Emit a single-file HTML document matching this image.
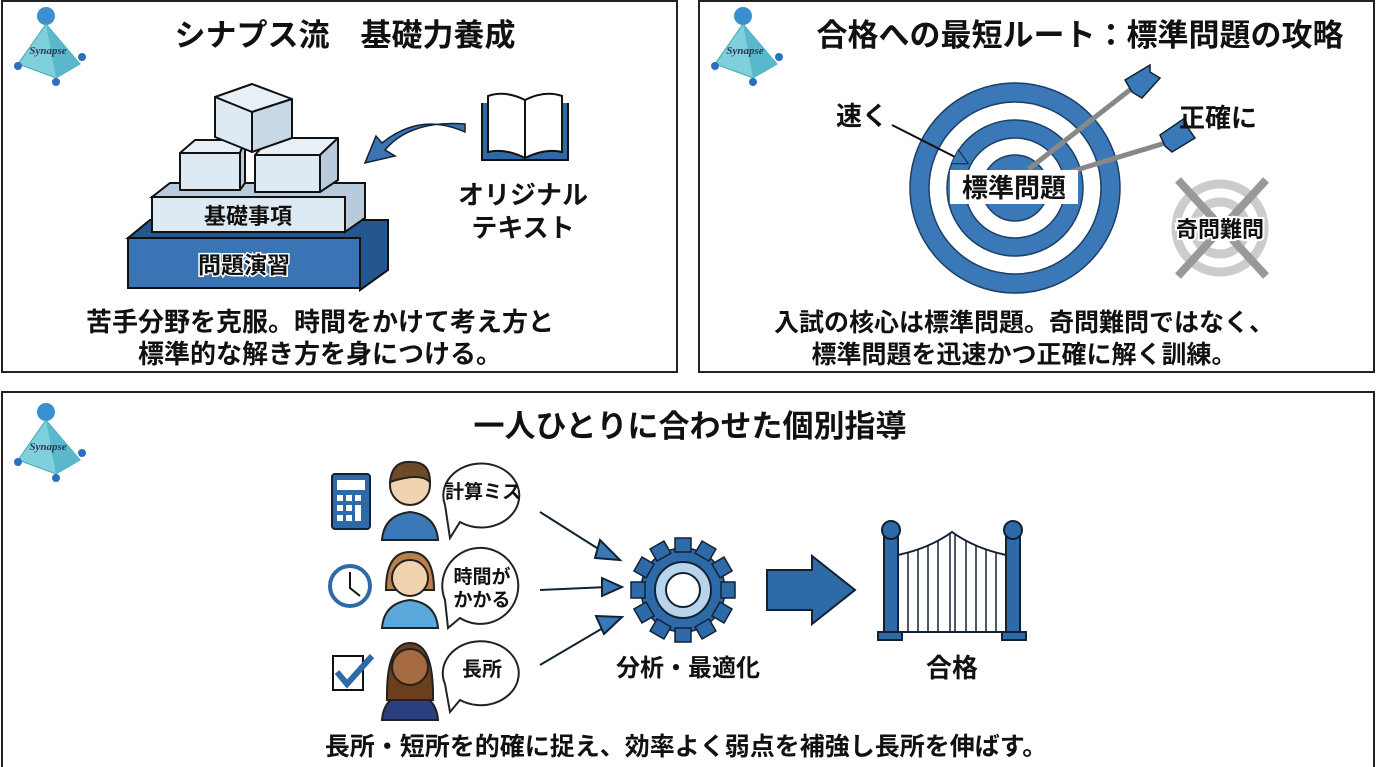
<!DOCTYPE html>
<html><head><meta charset="utf-8"><style>
body{margin:0;background:#fff}
svg{display:block}
text{font-family:"Liberation Sans","Noto Sans CJK JP",sans-serif;font-weight:bold;fill:#111}
</style></head><body>
<svg width="1376" height="767" viewBox="0 0 1376 767" xmlns="http://www.w3.org/2000/svg">
<defs>
<g id="logo">
<circle cx="38" cy="14" r="9" fill="#3a8fd0"/>
<polygon points="38,22 72,62 48,76 10,62" fill="#7fd0dc" stroke="#4aa" stroke-width="1"/>
<polygon points="38,22 48,76 72,62" fill="#5ab8cc"/>
<circle cx="10" cy="64" r="4" fill="#2a6fc0"/><circle cx="74" cy="55" r="4" fill="#2a6fc0"/><circle cx="48" cy="80" r="4" fill="#2a6fc0"/>
<text x="40" y="52" font-size="11" font-style="italic" font-weight="normal" text-anchor="middle" style="fill:#335;font-family:'Liberation Serif',serif">Synapse</text>
</g>
<marker id="ah" markerWidth="8" markerHeight="8" refX="6" refY="4" orient="auto"><path d="M0,0 L8,4 L0,8 z" fill="#3a78b8" stroke="#123" stroke-width=".5"/></marker>
</defs>
<rect x="2" y="1" width="675" height="371" fill="none" stroke="#222" stroke-width="2"/>
<rect x="699" y="1" width="675" height="371" fill="none" stroke="#222" stroke-width="2"/>
<path d="M2,767 V392 H1374 V767" fill="none" stroke="#222" stroke-width="2"/>
<use href="#logo" x="8" y="2"/><use href="#logo" x="705" y="2"/><use href="#logo" x="8" y="398"/>

<text x="345" y="46" font-size="31" text-anchor="middle">シナプス流　基礎力養成</text>
<!-- pyramid -->
<polygon points="128,238 150,220 388,220 388,270 360,290 360,238" fill="#24578f" stroke="#111" stroke-width="2"/>
<rect x="128" y="238" width="232" height="50" fill="#3a74b4" stroke="#111" stroke-width="2"/>
<text x="244" y="273" font-size="23" text-anchor="middle" style="fill:#111;paint-order:stroke;stroke:#fff;stroke-width:3">問題演習</text>
<polygon points="152,197 170,183 365,183 365,218 345,232 345,197" fill="#b8cbdd" stroke="#111" stroke-width="2"/>
<rect x="152" y="197" width="193" height="35" fill="#dde9f3" stroke="#111" stroke-width="2"/>
<text x="248" y="224" font-size="22" text-anchor="middle">基礎事項</text>
<g stroke="#111" stroke-width="2" stroke-linejoin="round">
<rect x="180" y="153" width="60" height="37" fill="#dde9f3"/>
<polygon points="180,153 195,140 245,140 240,153" fill="#e8f0f7"/>
<polygon points="240,153 245,140 245,183 240,190" fill="#b8cbdd"/>
<rect x="255" y="155" width="65" height="37" fill="#dde9f3"/>
<polygon points="255,155 270,138 338,138 320,155" fill="#e8f0f7"/>
<polygon points="320,155 338,138 338,180 320,192" fill="#b8cbdd"/>
<polygon points="252,84 292,99 252,112 215,97" fill="#e8f0f7"/>
<polygon points="215,97 252,112 252,152 215,137" fill="#dde9f3"/>
<polygon points="252,112 292,99 292,138 252,152" fill="#c8d8e6"/>
</g>
<!-- book & arrow -->
<path d="M482,103 V160 H568 V103" fill="#2f6aa8" stroke="#111" stroke-width="2"/>
<path d="M488,96 Q505,90 525,100 V158 Q505,148 488,152 Z M562,96 Q545,90 525,100 V158 Q545,148 562,152 Z" fill="#fff" stroke="#111" stroke-width="2"/>
<path d="M465,124 Q410,120 385,150 L395,156 L365,163 L376,136 L382,143 Q420,112 465,132 Z" fill="#3a74b4" stroke="#123" stroke-width="1.5"/>
<text x="523" y="204" font-size="26" text-anchor="middle">オリジナル</text>
<text x="523" y="237" font-size="26" text-anchor="middle">テキスト</text>
<text x="320" y="331" font-size="26" text-anchor="middle">苦手分野を克服。時間をかけて考え方と</text>
<text x="320" y="363" font-size="26" text-anchor="middle">標準的な解き方を身につける。</text>

<!-- panel 2 -->
<text x="1080" y="46" font-size="31" text-anchor="middle">合格への最短ルート：標準問題の攻略</text>
<g stroke="#1c3f66" stroke-width="1.5">
<circle cx="1015" cy="188" r="105" fill="#3a78b8"/>
<circle cx="1015" cy="188" r="86" fill="#fff"/>
<circle cx="1015" cy="188" r="68" fill="#3a78b8"/>
<circle cx="1015" cy="188" r="50" fill="#fff"/>
<circle cx="1015" cy="188" r="33" fill="#3a78b8"/>
</g>
<g stroke="#888" stroke-width="5" stroke-linecap="round">
<line x1="1030" y1="168" x2="1140" y2="82"/><line x1="1050" y1="178" x2="1175" y2="140"/>
</g>
<g fill="#3a78b8" stroke="#123" stroke-width="1.5">
<polygon points="1125,80 1150,65 1150,72 1160,78 1142,98 1132,92"/>
<polygon points="1160,135 1185,118 1188,128 1195,138 1172,152 1165,146"/>
</g>
<rect x="950" y="170" width="128" height="34" fill="#fff"/>
<text x="1014" y="197" font-size="26" text-anchor="middle">標準問題</text>
<text x="862" y="125" font-size="26" text-anchor="middle">速く</text>
<line x1="892" y1="125" x2="965" y2="162" stroke="#111" stroke-width="2" marker-end="url(#ah)"/>
<text x="1218" y="127" font-size="26" text-anchor="middle">正確に</text>
<g fill="none" stroke="#ccc" stroke-width="9">
<circle cx="1220" cy="228" r="44"/><circle cx="1220" cy="228" r="26"/>
<line x1="1178" y1="180" x2="1266" y2="276" stroke="#999" stroke-width="8"/><line x1="1266" y1="180" x2="1178" y2="276" stroke="#999" stroke-width="8"/>
</g>
<text x="1220" y="237" font-size="22" text-anchor="middle" style="paint-order:stroke;stroke:#fff;stroke-width:4">奇問難問</text>
<text x="1024" y="331" font-size="25" text-anchor="middle">入試の核心は標準問題。奇問難問ではなく、</text>
<text x="1024" y="363" font-size="25" text-anchor="middle">標準問題を迅速かつ正確に解く訓練。</text>

<!-- panel 3 -->
<text x="690" y="437" font-size="31" text-anchor="middle">一人ひとりに合わせた個別指導</text>
<rect x="332" y="474" width="38" height="55" rx="3" fill="#2f6aa8" stroke="#123" stroke-width="2"/>
<rect x="337" y="480" width="28" height="10" fill="#fff"/>
<g fill="#fff"><rect x="337" y="495" width="6" height="6"/><rect x="346" y="495" width="6" height="6"/><rect x="355" y="495" width="6" height="6"/><rect x="337" y="505" width="6" height="6"/><rect x="346" y="505" width="6" height="6"/><rect x="337" y="515" width="6" height="6"/><rect x="346" y="515" width="6" height="6"/><rect x="355" y="505" width="6" height="16"/></g>
<circle cx="350" cy="586" r="20" fill="#fff" stroke="#2f6aa8" stroke-width="4"/><polyline points="350,572 350,588 360,596" fill="none" stroke="#111" stroke-width="2"/>
<rect x="333" y="656" width="30" height="34" fill="#fff" stroke="#111" stroke-width="2"/>
<polyline points="337,672 347,684 372,656" fill="none" stroke="#2f6aa8" stroke-width="6"/>
<g stroke="#222" stroke-width="2">
<path d="M382,540 Q384,515 410,512 Q436,515 438,540 Z" fill="#3a78b8"/>
<circle cx="410" cy="485" r="20" fill="#f2d3b0"/>
<path d="M390,482 Q392,460 412,462 Q430,462 430,482 Q420,472 390,482Z" fill="#6b4a2a"/>
<path d="M382,628 Q384,603 410,600 Q436,603 438,628 Z" fill="#5aa8dc"/>
<path d="M386,590 Q386,552 410,552 Q434,552 434,590 Z" fill="#b8804a"/>
<circle cx="410" cy="578" r="18" fill="#f2d3b0"/>
<path d="M382,720 Q384,695 410,692 Q436,695 438,720 Z" fill="#2a3f80"/>
<path d="M387,700 Q386,643 410,643 Q434,643 433,700 Z" fill="#6b3e1e"/>
<circle cx="410" cy="667" r="18" fill="#a56a40"/>
</g>
<g fill="#fff" stroke="#222" stroke-width="2">
<path d="M445,505 A38,32 0 1 1 460,522 L450,538 Z"/>
<path d="M445,600 A38,38 0 1 1 460,618 L448,628 Z"/>
<path d="M445,684 A38,32 0 1 1 460,700 L450,712 Z"/>
</g>
<text x="483" y="498" font-size="19" text-anchor="middle">計算ミス</text>
<text x="482" y="583" font-size="19" text-anchor="middle">時間が</text>
<text x="482" y="606" font-size="19" text-anchor="middle">かかる</text>
<text x="482" y="676" font-size="20" text-anchor="middle">長所</text>
<g stroke="#123" stroke-width="2" fill="#3a78b8">
<line x1="540" y1="512" x2="608" y2="555"/><polygon points="600,540 620,560 595,558"/>
<line x1="540" y1="590" x2="608" y2="587"/><polygon points="602,578 622,587 602,596"/>
<line x1="540" y1="665" x2="608" y2="625"/><polygon points="596,616 622,617 604,634"/>
</g>
<g transform="translate(683,590)">
<g fill="#2f6aa8" stroke="#123" stroke-width="1.5">
<circle r="42"/>
<g id="t"><rect x="-8" y="-52" width="16" height="14"/></g>
<use href="#t" transform="rotate(30)"/><use href="#t" transform="rotate(60)"/><use href="#t" transform="rotate(90)"/><use href="#t" transform="rotate(120)"/><use href="#t" transform="rotate(150)"/><use href="#t" transform="rotate(180)"/><use href="#t" transform="rotate(210)"/><use href="#t" transform="rotate(240)"/><use href="#t" transform="rotate(270)"/><use href="#t" transform="rotate(300)"/><use href="#t" transform="rotate(330)"/>
</g>
<circle r="28" fill="#b8d4ea" stroke="#123" stroke-width="2"/>
<circle r="17" fill="#fff" stroke="#123" stroke-width="2"/>
</g>
<text x="688" y="676" font-size="24" text-anchor="middle">分析・最適化</text>
<polygon points="767,570 812,570 812,556 855,590 812,624 812,610 767,610" fill="#2f6aa8" stroke="#123" stroke-width="2"/>
<g stroke="#123" stroke-width="2">
<rect x="884" y="533" width="14" height="105" fill="#2f6aa8"/><circle cx="891" cy="530" r="9" fill="#2f6aa8"/>
<rect x="1006" y="533" width="14" height="105" fill="#2f6aa8"/><circle cx="1013" cy="530" r="9" fill="#2f6aa8"/>
<path d="M898,555 Q930,548 952,532 Q974,548 1006,555 V632 H898 Z" fill="#fff"/>
<g stroke-width="1.5"><line x1="908" y1="552" x2="908" y2="632"/><line x1="918" y1="550" x2="918" y2="632"/><line x1="928" y1="546" x2="928" y2="632"/><line x1="938" y1="541" x2="938" y2="632"/><line x1="950" y1="534" x2="950" y2="632"/><line x1="955" y1="534" x2="955" y2="632"/><line x1="966" y1="541" x2="966" y2="632"/><line x1="976" y1="546" x2="976" y2="632"/><line x1="986" y1="550" x2="986" y2="632"/><line x1="996" y1="552" x2="996" y2="632"/></g>
<rect x="878" y="632" width="24" height="8" fill="#2f6aa8"/><rect x="1002" y="632" width="24" height="8" fill="#2f6aa8"/>
</g>
<text x="952" y="677" font-size="26" text-anchor="middle">合格</text>
<text x="686" y="755" font-size="25" text-anchor="middle">長所・短所を的確に捉え、効率よく弱点を補強し長所を伸ばす。</text>
</svg>
</body></html>
